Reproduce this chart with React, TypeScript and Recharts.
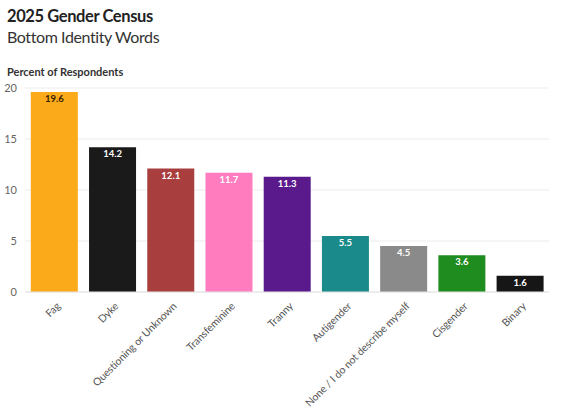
import { BarChart, Bar, XAxis, YAxis, CartesianGrid, Cell, LabelList } from 'recharts';

const categories = [
  'Fag',
  'Dyke',
  'Questioning or Unknown',
  'Transfeminine',
  'Tranny',
  'Autigender',
  'None / I do not describe myself',
  'Cisgender',
  'Binary',
];
const percents = [19.6, 14.2, 12.1, 11.7, 11.3, 5.5, 4.5, 3.6, 1.6];
const barColors = [
  '#FBAA1A',
  '#1A1A1A',
  '#A83E3E',
  '#FF7DBF',
  '#5B1A8B',
  '#1A8A8A',
  '#8A8A8A',
  '#1F8C1F',
  '#161616',
];
const labelColors = ['#3A2000', '#fff', '#fff', '#fff', '#fff', '#fff', '#fff', '#fff', '#fff'];
const yTicks = [0, 5, 10, 15, 20];

const data = categories.map((name, i) => ({ name, value: percents[i] }));

const FONT = 'Lato, "Noto Sans", sans-serif';

function AngledTick(props: any) {
  const { x, y, payload } = props;
  const tx = x + 4;
  const ty = y + 4;
  return (
    <text
      x={tx}
      y={ty}
      dy={4}
      transform={`rotate(-45, ${tx}, ${ty})`}
      textAnchor="end"
      fontSize={10.5}
      letterSpacing={-0.1}
      fill="#555"
      fontFamily={FONT}
    >
      {payload.value}
    </text>
  );
}

function ValueLabel(props: any) {
  const { x, y, width, value, index } = props;
  return (
    <text
      x={x + width / 2}
      y={y + 10}
      textAnchor="middle"
      fontSize={9.5}
      fontWeight={700}
      fill={labelColors[index]}
      fontFamily={FONT}
    >
      {value.toFixed(1)}
    </text>
  );
}

export default function App() {
  return (
    <div
      style={{
        position: 'absolute',
        left: 0,
        top: 0,
        width: 563,
        height: 408,
        background: '#fff',
        fontFamily: FONT,
      }}
    >
      <div
        style={{
          position: 'absolute',
          left: 7,
          top: 6,
          fontSize: 16.5,
          fontWeight: 700,
          letterSpacing: -0.4,
          color: '#222',
        }}
      >
        2025 Gender Census
      </div>
      <div
        style={{ position: 'absolute', left: 7, top: 27, fontSize: 16, letterSpacing: -0.4, color: '#333' }}
      >
        Bottom Identity Words
      </div>
      <div style={{ position: 'absolute', left: 7, top: 65, fontSize: 11, fontWeight: 700, color: '#333' }}>
        Percent of Respondents
      </div>
      <div style={{ position: 'absolute', left: 0, top: 0 }}>
        <BarChart
          width={563}
          height={408}
          data={data}
          margin={{ top: 88, right: 14, bottom: 0, left: 0 }}
          barCategoryGap="10%"
        >
          <CartesianGrid vertical={false} stroke="#ececec" />
          <XAxis
            dataKey="name"
            interval={0}
            height={116}
            tickLine={false}
            axisLine={{ stroke: '#e4e4e4' }}
            tick={<AngledTick />}
          />
          <YAxis
            width={25}
            domain={[0, 20]}
            ticks={yTicks}
            tickLine={false}
            axisLine={false}
            tickSize={0}
            tickMargin={8}
            tick={{ fontSize: 11, fill: '#666', fontFamily: FONT }}
          />
          <Bar dataKey="value" isAnimationActive={false}>
            {data.map((d, i) => (
              <Cell key={d.name} fill={barColors[i]} />
            ))}
            <LabelList dataKey="value" content={<ValueLabel />} />
          </Bar>
        </BarChart>
      </div>
    </div>
  );
}
